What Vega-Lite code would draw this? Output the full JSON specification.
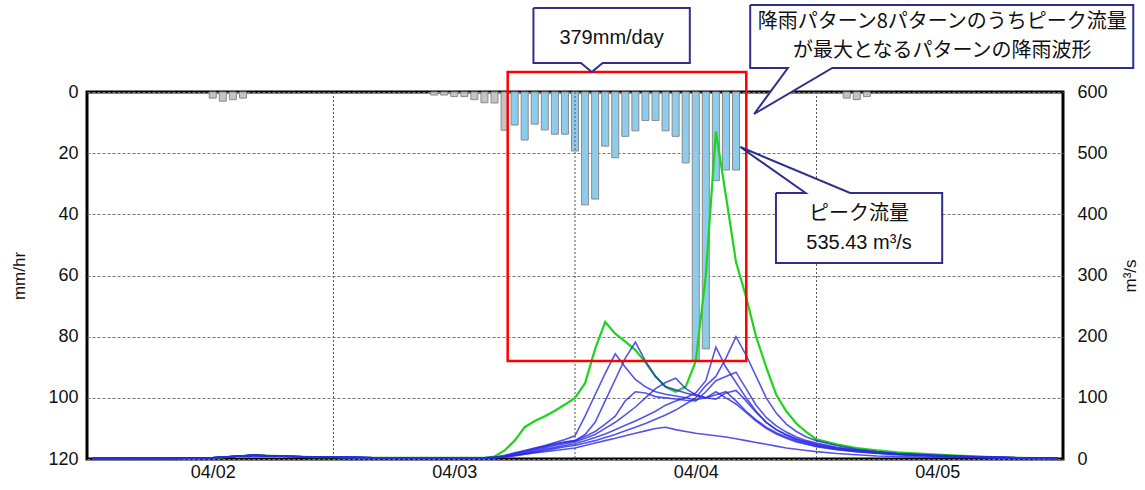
{
  "$schema": "https://vega.github.io/schema/vega-lite/v6.json",
  "width": 976,
  "height": 367,
  "autosize": {"type": "none"},
  "padding": {"left": 87, "top": 92, "right": 82, "bottom": 31},
  "background": "white",
  "config": {
    "view": {"stroke": "black", "strokeWidth": 3},
    "font": "Liberation Sans",
    "axis": {"labelFont": "Liberation Sans", "titleFont": "Liberation Sans", "labelColor": "#111111", "titleColor": "#111111"}
  },
  "datasets": {
    "rain": [
      {"h": 12, "r": 2, "p": "out"}, {"h": 13, "r": 3, "p": "out"}, {"h": 14, "r": 2.5, "p": "out"}, {"h": 15, "r": 2, "p": "out"},
      {"h": 34, "r": 1, "p": "out"}, {"h": 35, "r": 1, "p": "out"}, {"h": 36, "r": 1.5, "p": "out"}, {"h": 37, "r": 1.5, "p": "out"},
      {"h": 38, "r": 2.5, "p": "out"}, {"h": 39, "r": 3.5, "p": "out"}, {"h": 40, "r": 3.6, "p": "out"}, {"h": 41, "r": 12.5, "p": "out"},
      {"h": 42, "r": 10.8, "p": "in"}, {"h": 43, "r": 15.7, "p": "in"}, {"h": 44, "r": 10.5, "p": "in"}, {"h": 45, "r": 12.4, "p": "in"},
      {"h": 46, "r": 13.8, "p": "in"}, {"h": 47, "r": 13.8, "p": "in"}, {"h": 48, "r": 19.3, "p": "in"}, {"h": 49, "r": 36.9, "p": "in"},
      {"h": 50, "r": 35, "p": "in"}, {"h": 51, "r": 17.7, "p": "in"}, {"h": 52, "r": 21.5, "p": "in"}, {"h": 53, "r": 14.5, "p": "in"},
      {"h": 54, "r": 12.7, "p": "in"}, {"h": 55, "r": 9.3, "p": "in"}, {"h": 56, "r": 9.3, "p": "in"}, {"h": 57, "r": 12.7, "p": "in"},
      {"h": 58, "r": 14.5, "p": "in"}, {"h": 59, "r": 23.2, "p": "in"}, {"h": 60, "r": 88, "p": "in"}, {"h": 61, "r": 84, "p": "in"},
      {"h": 62, "r": 29, "p": "in"}, {"h": 63, "r": 25.5, "p": "in"}, {"h": 64, "r": 25.5, "p": "in"},
      {"h": 75, "r": 2, "p": "out"}, {"h": 76, "r": 2.5, "p": "out"}, {"h": 77, "r": 1.5, "p": "out"}
    ],
    "grid": [{"h": 24}, {"h": 48}, {"h": 72}],
    "flow": [
      {"h": 0, "g": 1, "b1": 1, "b2": 1, "b3": 1, "b4": 1, "b5": 1, "b6": 1, "b7": 1},
      {"h": 4, "g": 1, "b1": 1, "b2": 1, "b3": 1, "b4": 1, "b5": 1, "b6": 1, "b7": 1},
      {"h": 8, "g": 1, "b1": 1, "b2": 1, "b3": 1, "b4": 1, "b5": 1, "b6": 1, "b7": 1},
      {"h": 12, "g": 2, "b1": 2, "b2": 2, "b3": 2, "b4": 2, "b5": 2, "b6": 2, "b7": 2},
      {"h": 14, "g": 4, "b1": 4, "b2": 4, "b3": 4, "b4": 4, "b5": 4, "b6": 4, "b7": 4},
      {"h": 16, "g": 6, "b1": 6, "b2": 6, "b3": 6, "b4": 6, "b5": 6, "b6": 6, "b7": 6},
      {"h": 18, "g": 5, "b1": 5, "b2": 5, "b3": 5, "b4": 5, "b5": 5, "b6": 5, "b7": 5},
      {"h": 20, "g": 4, "b1": 4, "b2": 4, "b3": 4, "b4": 4, "b5": 4, "b6": 4, "b7": 4},
      {"h": 22, "g": 3, "b1": 3, "b2": 3, "b3": 3, "b4": 3, "b5": 3, "b6": 3, "b7": 3},
      {"h": 24, "g": 3, "b1": 3, "b2": 3, "b3": 3, "b4": 3, "b5": 3, "b6": 3, "b7": 3},
      {"h": 28, "g": 2, "b1": 2, "b2": 2, "b3": 2, "b4": 2, "b5": 2, "b6": 2, "b7": 2},
      {"h": 32, "g": 2, "b1": 2, "b2": 2, "b3": 2, "b4": 2, "b5": 2, "b6": 2, "b7": 2},
      {"h": 36, "g": 2, "b1": 2, "b2": 2, "b3": 2, "b4": 2, "b5": 2, "b6": 2, "b7": 2},
      {"h": 38, "g": 2, "b1": 2, "b2": 2, "b3": 2, "b4": 2, "b5": 2, "b6": 2, "b7": 2},
      {"h": 39, "g": 2, "b1": 2, "b2": 2, "b3": 2, "b4": 2, "b5": 2, "b6": 2, "b7": 2},
      {"h": 40, "g": 4, "b1": 3, "b2": 3, "b3": 2, "b4": 2, "b5": 2, "b6": 2, "b7": 2},
      {"h": 41, "g": 14, "b1": 6, "b2": 5, "b3": 4, "b4": 4, "b5": 3, "b6": 4, "b7": 4},
      {"h": 42, "g": 30, "b1": 10, "b2": 9, "b3": 7, "b4": 6, "b5": 5, "b6": 8, "b7": 6},
      {"h": 43, "g": 52, "b1": 14, "b2": 13, "b3": 10, "b4": 9, "b5": 8, "b6": 12, "b7": 8},
      {"h": 44, "g": 62, "b1": 18, "b2": 17, "b3": 14, "b4": 12, "b5": 11, "b6": 16, "b7": 10},
      {"h": 45, "g": 70, "b1": 22, "b2": 21, "b3": 18, "b4": 16, "b5": 14, "b6": 20, "b7": 12},
      {"h": 46, "g": 79, "b1": 27, "b2": 25, "b3": 22, "b4": 19, "b5": 17, "b6": 24, "b7": 14},
      {"h": 47, "g": 89, "b1": 32, "b2": 28, "b3": 25, "b4": 22, "b5": 20, "b6": 27, "b7": 16},
      {"h": 48, "g": 100, "b1": 38, "b2": 30, "b3": 28, "b4": 25, "b5": 22, "b6": 30, "b7": 18},
      {"h": 49, "g": 124, "b1": 70, "b2": 40, "b3": 34, "b4": 30, "b5": 26, "b6": 37, "b7": 22},
      {"h": 50, "g": 180, "b1": 105, "b2": 60, "b3": 40, "b4": 35, "b5": 30, "b6": 45, "b7": 26},
      {"h": 51, "g": 224, "b1": 140, "b2": 95, "b3": 50, "b4": 41, "b5": 35, "b6": 57, "b7": 30},
      {"h": 52, "g": 205, "b1": 172, "b2": 130, "b3": 60, "b4": 48, "b5": 40, "b6": 70, "b7": 34},
      {"h": 53, "g": 192, "b1": 150, "b2": 165, "b3": 72, "b4": 55, "b5": 46, "b6": 95, "b7": 38},
      {"h": 54, "g": 178, "b1": 130, "b2": 191, "b3": 85, "b4": 62, "b5": 52, "b6": 110, "b7": 42},
      {"h": 55, "g": 158, "b1": 118, "b2": 160, "b3": 100, "b4": 70, "b5": 58, "b6": 108, "b7": 46},
      {"h": 56, "g": 135, "b1": 110, "b2": 135, "b3": 115, "b4": 78, "b5": 65, "b6": 102, "b7": 50},
      {"h": 57, "g": 118, "b1": 106, "b2": 118, "b3": 125, "b4": 88, "b5": 72, "b6": 100, "b7": 52},
      {"h": 58, "g": 110, "b1": 103, "b2": 113, "b3": 132, "b4": 95, "b5": 80, "b6": 98, "b7": 48},
      {"h": 59, "g": 118, "b1": 100, "b2": 108, "b3": 115, "b4": 100, "b5": 90, "b6": 96, "b7": 45},
      {"h": 60, "g": 160, "b1": 97, "b2": 104, "b3": 105, "b4": 108, "b5": 100, "b6": 95, "b7": 42},
      {"h": 61, "g": 300, "b1": 100, "b2": 100, "b3": 100, "b4": 128, "b5": 120, "b6": 110, "b7": 40},
      {"h": 62, "g": 535.43, "b1": 110, "b2": 105, "b3": 98, "b4": 183, "b5": 135, "b6": 128, "b7": 38},
      {"h": 63, "g": 430, "b1": 100, "b2": 110, "b3": 108, "b4": 150, "b5": 165, "b6": 135, "b7": 36},
      {"h": 64, "g": 322, "b1": 90, "b2": 95, "b3": 112, "b4": 125, "b5": 200, "b6": 142, "b7": 33},
      {"h": 65, "g": 265, "b1": 76, "b2": 78, "b3": 95, "b4": 100, "b5": 170, "b6": 115, "b7": 30},
      {"h": 66, "g": 200, "b1": 62, "b2": 64, "b3": 76, "b4": 78, "b5": 135, "b6": 88, "b7": 27},
      {"h": 67, "g": 150, "b1": 50, "b2": 52, "b3": 60, "b4": 60, "b5": 100, "b6": 68, "b7": 24},
      {"h": 68, "g": 105, "b1": 41, "b2": 43, "b3": 48, "b4": 48, "b5": 75, "b6": 54, "b7": 21},
      {"h": 69, "g": 78, "b1": 34, "b2": 36, "b3": 39, "b4": 40, "b5": 57, "b6": 44, "b7": 18},
      {"h": 70, "g": 58, "b1": 28, "b2": 30, "b3": 32, "b4": 33, "b5": 45, "b6": 36, "b7": 16},
      {"h": 71, "g": 44, "b1": 24, "b2": 25, "b3": 27, "b4": 28, "b5": 36, "b6": 30, "b7": 14},
      {"h": 72, "g": 32, "b1": 20, "b2": 21, "b3": 23, "b4": 24, "b5": 30, "b6": 26, "b7": 12},
      {"h": 74, "g": 24, "b1": 15, "b2": 16, "b3": 17, "b4": 18, "b5": 22, "b6": 19, "b7": 9},
      {"h": 76, "g": 18, "b1": 12, "b2": 12, "b3": 13, "b4": 14, "b5": 16, "b6": 15, "b7": 7},
      {"h": 78, "g": 14, "b1": 9, "b2": 10, "b3": 10, "b4": 11, "b5": 12, "b6": 11, "b7": 5},
      {"h": 80, "g": 11, "b1": 7, "b2": 8, "b3": 8, "b4": 8, "b5": 9, "b6": 9, "b7": 4},
      {"h": 84, "g": 7, "b1": 5, "b2": 5, "b3": 5, "b4": 5, "b5": 6, "b6": 6, "b7": 3},
      {"h": 88, "g": 4, "b1": 3, "b2": 3, "b3": 3, "b4": 3, "b5": 4, "b6": 3, "b7": 2},
      {"h": 92, "g": 2, "b1": 2, "b2": 2, "b3": 2, "b4": 2, "b5": 2, "b6": 2, "b7": 1},
      {"h": 96, "g": 1, "b1": 1, "b2": 1, "b3": 1, "b4": 1, "b5": 1, "b6": 1, "b7": 1}
    ],
    "box": [{"h1": 41.31, "h2": 65.02, "r1": -6.54, "r2": 87.96}],
    "callouts": [
      {"c": 1, "i": 0, "hx": 43.87, "ry": -27.47}, {"c": 1, "i": 1, "hx": 59.41, "ry": -27.47},
      {"c": 1, "i": 2, "hx": 59.41, "ry": -9.48}, {"c": 1, "i": 3, "hx": 50.75, "ry": -9.48},
      {"c": 1, "i": 4, "hx": 49.67, "ry": -6.54}, {"c": 1, "i": 5, "hx": 48.59, "ry": -9.48},
      {"c": 1, "i": 6, "hx": 43.87, "ry": -9.48}, {"c": 1, "i": 7, "hx": 43.87, "ry": -27.47},
      {"c": 2, "i": 0, "hx": 65.41, "ry": -28.45}, {"c": 2, "i": 1, "hx": 103.48, "ry": -28.45},
      {"c": 2, "i": 2, "hx": 103.48, "ry": -7.85}, {"c": 2, "i": 3, "hx": 73.57, "ry": -7.85},
      {"c": 2, "i": 4, "hx": 65.8, "ry": 7.19}, {"c": 2, "i": 5, "hx": 69.15, "ry": -7.85},
      {"c": 2, "i": 6, "hx": 65.41, "ry": -7.85}, {"c": 2, "i": 7, "hx": 65.41, "ry": -28.45},
      {"c": 3, "i": 0, "hx": 67.97, "ry": 33.03}, {"c": 3, "i": 1, "hx": 70.92, "ry": 33.03},
      {"c": 3, "i": 2, "hx": 64.43, "ry": 17.98}, {"c": 3, "i": 3, "hx": 75.34, "ry": 33.03},
      {"c": 3, "i": 4, "hx": 84.49, "ry": 33.03}, {"c": 3, "i": 5, "hx": 84.49, "ry": 55.91},
      {"c": 3, "i": 6, "hx": 67.97, "ry": 55.91}, {"c": 3, "i": 7, "hx": 67.97, "ry": 33.03}
    ],
    "notes": [
      {"k": "en", "t": "379mm/day", "hx": 51.64, "ry": -17.66},
      {"k": "jp2", "t": "降雨パターン8パターンのうちピーク流量", "hx": 84.49, "ry": -22.89},
      {"k": "jp2", "t": "が最大となるパターンの降雨波形", "hx": 84.49, "ry": -13.41},
      {"k": "jp3", "t": "ピーク流量", "hx": 76.23, "ry": 39.89},
      {"k": "en", "t": "535.43 m³/s", "hx": 76.23, "ry": 49.37}
    ]
  },
  "resolve": {"scale": {"y": "independent"}},
  "layer": [
    {
      "layer": [
        {
          "data": {"name": "rain"},
          "mark": {"type": "bar", "width": 7, "stroke": "#8A8A8A", "strokeWidth": 1},
          "encoding": {
            "x": {"field": "h", "type": "quantitative", "scale": {"domain": [0, 96], "nice": false, "zero": false},
                  "axis": {"values": [12, 36, 60, 84], "labelExpr": "datum.value == 12 ? '04/02' : datum.value == 36 ? '04/03' : datum.value == 60 ? '04/04' : '04/05'", "title": null, "grid": false, "ticks": false, "domain": false, "labelFontSize": 18, "labelPadding": 4, "labelFlush": false}},
            "y": {"field": "r", "type": "quantitative", "scale": {"domain": [0, 120], "reverse": true, "nice": false},
                  "axis": {"orient": "left", "values": [0, 20, 40, 60, 80, 100, 120], "title": "mm/hr", "titleFontSize": 17, "titleFontWeight": "normal", "titlePadding": 19, "labelFontSize": 18, "labelPadding": 9, "ticks": false, "domain": false, "grid": true, "gridDash": [3, 2], "gridColor": "#777777", "gridWidth": 1}},
            "color": {"field": "p", "type": "nominal", "scale": {"domain": ["out", "in"], "range": ["#C4C4C4", "#8DCDEB"]}, "legend": null}
          }
        },
        {
          "data": {"name": "grid"},
          "mark": {"type": "rule", "color": "#555555", "strokeWidth": 1, "strokeDash": [2, 2]},
          "encoding": {
            "x": {"field": "h", "type": "quantitative", "scale": {"domain": [0, 96], "nice": false, "zero": false},
                  "axis": {"values": [12, 36, 60, 84], "labelExpr": "datum.value == 12 ? '04/02' : datum.value == 36 ? '04/03' : datum.value == 60 ? '04/04' : '04/05'", "title": null, "grid": false, "ticks": false, "domain": false, "labelFontSize": 18, "labelPadding": 4, "labelFlush": false}}
          }
        }
      ]
    },
    {
      "layer": [
        {
          "data": {"name": "flow"},
          "mark": {"type": "line", "color": "#1ED41E", "strokeWidth": 2.2},
          "encoding": {
            "x": {"field": "h", "type": "quantitative", "scale": {"domain": [0, 96], "nice": false, "zero": false},
                  "axis": {"values": [12, 36, 60, 84], "labelExpr": "datum.value == 12 ? '04/02' : datum.value == 36 ? '04/03' : datum.value == 60 ? '04/04' : '04/05'", "title": null, "grid": false, "ticks": false, "domain": false, "labelFontSize": 18, "labelPadding": 4, "labelFlush": false}},
            "y": {"field": "g", "type": "quantitative", "scale": {"domain": [0, 600], "nice": false},
                  "axis": {"orient": "right", "values": [0, 100, 200, 300, 400, 500, 600], "title": "m³/s", "titleAngle": 270, "titleFontSize": 17, "titleFontWeight": "normal", "titlePadding": 32, "labelFontSize": 18, "labelPadding": 14, "ticks": false, "domain": false, "grid": false}}
          }
        },
        {
          "data": {"name": "flow"},
          "transform": [{"fold": ["b1", "b2", "b3", "b4", "b5", "b6", "b7"], "as": ["s", "q"]}],
          "mark": {"type": "line", "color": "#2A2AE2", "strokeWidth": 1.6, "opacity": 0.8},
          "encoding": {
            "x": {"field": "h", "type": "quantitative", "scale": {"domain": [0, 96], "nice": false, "zero": false},
                  "axis": {"values": [12, 36, 60, 84], "labelExpr": "datum.value == 12 ? '04/02' : datum.value == 36 ? '04/03' : datum.value == 60 ? '04/04' : '04/05'", "title": null, "grid": false, "ticks": false, "domain": false, "labelFontSize": 18, "labelPadding": 4, "labelFlush": false}},
            "y": {"field": "q", "type": "quantitative", "scale": {"domain": [0, 600], "nice": false},
                  "axis": {"orient": "right", "values": [0, 100, 200, 300, 400, 500, 600], "title": "m³/s", "titleAngle": 270, "titleFontSize": 17, "titleFontWeight": "normal", "titlePadding": 32, "labelFontSize": 18, "labelPadding": 14, "ticks": false, "domain": false, "grid": false}},
            "detail": {"field": "s", "type": "nominal"}
          }
        }
      ]
    },
    {
      "layer": [
        {
          "data": {"name": "box"},
          "mark": {"type": "rect", "filled": false, "color": "#FF0000", "strokeWidth": 2.5},
          "encoding": {
            "x": {"field": "h1", "type": "quantitative", "scale": {"domain": [0, 96], "nice": false, "zero": false},
                  "axis": {"values": [12, 36, 60, 84], "labelExpr": "datum.value == 12 ? '04/02' : datum.value == 36 ? '04/03' : datum.value == 60 ? '04/04' : '04/05'", "title": null, "grid": false, "ticks": false, "domain": false, "labelFontSize": 18, "labelPadding": 4, "labelFlush": false}},
            "x2": {"field": "h2"},
            "y": {"field": "r1", "type": "quantitative", "scale": {"domain": [0, 120], "reverse": true, "nice": false, "zero": false}, "axis": null},
            "y2": {"field": "r2"}
          }
        },
        {
          "data": {"name": "callouts"},
          "mark": {"type": "line", "fill": "white", "stroke": "#30308C", "strokeWidth": 2},
          "encoding": {
            "x": {"field": "hx", "type": "quantitative", "scale": {"domain": [0, 96], "nice": false, "zero": false},
                  "axis": {"values": [12, 36, 60, 84], "labelExpr": "datum.value == 12 ? '04/02' : datum.value == 36 ? '04/03' : datum.value == 60 ? '04/04' : '04/05'", "title": null, "grid": false, "ticks": false, "domain": false, "labelFontSize": 18, "labelPadding": 4, "labelFlush": false}},
            "y": {"field": "ry", "type": "quantitative", "scale": {"domain": [0, 120], "reverse": true, "nice": false, "zero": false}, "axis": null},
            "detail": {"field": "c", "type": "nominal"},
            "order": {"field": "i", "type": "quantitative"}
          }
        },
        {
          "data": {"name": "notes"},
          "transform": [{"filter": "datum.k == 'en'"}],
          "mark": {"type": "text", "font": "Liberation Sans", "fontSize": 20, "color": "#111111", "align": "center", "baseline": "middle"},
          "encoding": {
            "x": {"field": "hx", "type": "quantitative", "scale": {"domain": [0, 96], "nice": false, "zero": false},
                  "axis": {"values": [12, 36, 60, 84], "labelExpr": "datum.value == 12 ? '04/02' : datum.value == 36 ? '04/03' : datum.value == 60 ? '04/04' : '04/05'", "title": null, "grid": false, "ticks": false, "domain": false, "labelFontSize": 18, "labelPadding": 4, "labelFlush": false}},
            "y": {"field": "ry", "type": "quantitative", "scale": {"domain": [0, 120], "reverse": true, "nice": false, "zero": false}, "axis": null},
            "text": {"field": "t"}
          }
        },
        {
          "data": {"name": "notes"},
          "transform": [{"filter": "datum.k == 'jp2'"}],
          "mark": {"type": "text", "font": "Noto Sans CJK JP", "fontSize": 20, "color": "#111111", "align": "center", "baseline": "middle"},
          "encoding": {
            "x": {"field": "hx", "type": "quantitative", "scale": {"domain": [0, 96], "nice": false, "zero": false},
                  "axis": {"values": [12, 36, 60, 84], "labelExpr": "datum.value == 12 ? '04/02' : datum.value == 36 ? '04/03' : datum.value == 60 ? '04/04' : '04/05'", "title": null, "grid": false, "ticks": false, "domain": false, "labelFontSize": 18, "labelPadding": 4, "labelFlush": false}},
            "y": {"field": "ry", "type": "quantitative", "scale": {"domain": [0, 120], "reverse": true, "nice": false, "zero": false}, "axis": null},
            "text": {"field": "t"}
          }
        },
        {
          "data": {"name": "notes"},
          "transform": [{"filter": "datum.k == 'jp3'"}],
          "mark": {"type": "text", "font": "Noto Sans CJK JP", "fontSize": 20, "color": "#111111", "align": "center", "baseline": "middle"},
          "encoding": {
            "x": {"field": "hx", "type": "quantitative", "scale": {"domain": [0, 96], "nice": false, "zero": false},
                  "axis": {"values": [12, 36, 60, 84], "labelExpr": "datum.value == 12 ? '04/02' : datum.value == 36 ? '04/03' : datum.value == 60 ? '04/04' : '04/05'", "title": null, "grid": false, "ticks": false, "domain": false, "labelFontSize": 18, "labelPadding": 4, "labelFlush": false}},
            "y": {"field": "ry", "type": "quantitative", "scale": {"domain": [0, 120], "reverse": true, "nice": false, "zero": false}, "axis": null},
            "text": {"field": "t"}
          }
        }
      ]
    }
  ]
}
